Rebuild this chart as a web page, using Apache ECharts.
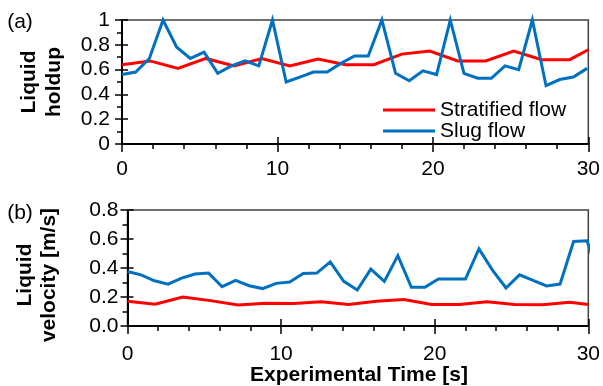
<!DOCTYPE html>
<html>
<head>
<meta charset="utf-8">
<script src="https://cdn.jsdelivr.net/npm/echarts@6/dist/echarts.min.js"></script>
<style>
  html, body { margin: 0; padding: 0; background: #fff; }
  #chart { width: 603px; height: 386px; }
</style>
</head>
<body>
<div id="chart"></div>
<script>
// Sample times [s]
const slugTime = [0, 0.88, 1.76, 2.64, 3.52, 4.40, 5.28, 6.16, 7.04, 7.92, 8.80, 9.68,
  10.56, 11.44, 12.32, 13.20, 14.08, 14.96, 15.84, 16.72, 17.60, 18.48, 19.36, 20.24,
  21.12, 22.00, 22.88, 23.76, 24.64, 25.52, 26.40, 27.28, 28.16, 29.04, 29.92, 30.80];
const stratTime = [0, 1.8, 3.6, 5.4, 7.2, 9.0, 10.8, 12.6, 14.4, 16.2, 18.0, 19.8,
  21.6, 23.4, 25.2, 27.0, 28.8, 30];

// (a) Liquid holdup
const holdupStratified = [0.64, 0.67, 0.61, 0.69, 0.63, 0.69, 0.63, 0.685, 0.64, 0.64,
  0.725, 0.75, 0.67, 0.67, 0.75, 0.68, 0.68, 0.76];
const holdupSlug = [0.56, 0.58, 0.69, 1.0, 0.78, 0.69, 0.74, 0.57, 0.63, 0.67, 0.63, 1.0,
  0.50, 0.54, 0.58, 0.58, 0.65, 0.71, 0.71, 1.0, 0.57, 0.51, 0.59, 0.56, 1.0, 0.57,
  0.53, 0.53, 0.63, 0.60, 1.0, 0.47, 0.52, 0.54, 0.61];

// (b) Liquid velocity [m/s]
const velocityStratified = [0.17, 0.15, 0.20, 0.175, 0.145, 0.157, 0.155, 0.168, 0.148,
  0.17, 0.182, 0.148, 0.148, 0.168, 0.148, 0.146, 0.163, 0.148];
const velocitySlug = [0.376, 0.353, 0.312, 0.289, 0.33, 0.358, 0.365, 0.271, 0.315, 0.278,
  0.258, 0.294, 0.303, 0.362, 0.365, 0.442, 0.308, 0.248, 0.392, 0.308, 0.485, 0.267,
  0.267, 0.324, 0.324, 0.324, 0.531, 0.385, 0.262, 0.353, 0.315, 0.276, 0.289, 0.583,
  0.588, 0.30];

// Tick labels
const timeTicks = ['0', '10', '20', '30'];
const holdupTicks = ['0', '0.2', '0.4', '0.6', '0.8', '1'];
const velocityTicks = ['0.0', '0.2', '0.4', '0.6', '0.8'];

const FONT = '"Liberation Sans", Arial, sans-serif';
const RED = '#FF0000';
const BLUE = '#0070C0';

const pairs = (t, v) => v.map((y, i) => [t[i], y]);

function mainX(gridIndex, margin) {
  return {
    type: 'value', gridIndex, position: 'bottom', min: 0, max: 30, interval: 10,
    axisLine: { show: true, onZero: false, lineStyle: { color: '#000', width: 2 } },
    axisTick: { show: true, inside: false, length: 8, lineStyle: { color: '#000', width: 1.5 } },
    minorTick: { show: true, splitNumber: 5, length: 5, lineStyle: { color: '#000', width: 1.5 } },
    splitLine: { show: false }, minorSplitLine: { show: false },
    axisLabel: { margin, fontSize: 21, color: '#000', fontFamily: FONT,
      formatter: v => timeTicks[Math.round(v / 10)] }
  };
}
function innerX(gridIndex) {
  return {
    type: 'value', gridIndex, position: 'bottom', min: 0, max: 30, interval: 10,
    axisLine: { show: false },
    axisTick: { show: true, inside: true, length: 7, lineStyle: { color: '#000', width: 1.5 } },
    axisLabel: { show: false }, splitLine: { show: false }
  };
}
function mainY(gridIndex, max, labels, margin) {
  return {
    type: 'value', gridIndex, position: 'left', min: 0, max, interval: 0.2,
    axisLine: { show: true, onZero: false, lineStyle: { color: '#000', width: 2 } },
    axisTick: { show: true, inside: false, length: 7, lineStyle: { color: '#000', width: 1.5 } },
    minorTick: { show: true, splitNumber: 2, length: 5, lineStyle: { color: '#000', width: 1.5 } },
    splitLine: { show: false }, minorSplitLine: { show: false },
    axisLabel: { margin, fontSize: 21, color: '#000', fontFamily: FONT,
      formatter: v => labels[Math.round(v / 0.2)] }
  };
}
function innerY(gridIndex, max) {
  return {
    type: 'value', gridIndex, position: 'left', min: 0, max, interval: 0.2,
    axisLine: { show: false },
    axisTick: { show: true, inside: true, length: 6, lineStyle: { color: '#000', width: 1.5 } },
    axisLabel: { show: false }, splitLine: { show: false }
  };
}

const lineSeries = (name, color, xi, yi, data, clip) => ({
  name, type: 'line', xAxisIndex: xi, yAxisIndex: yi, data, clip,
  showSymbol: false, symbol: 'none', smooth: false, animation: false,
  lineStyle: { color, width: 3, join: 'miter' }, itemStyle: { color }
});

const titleStyle = (text, lh) => ({
  text, font: 'bold 21px ' + FONT, fill: '#000',
  align: 'center', verticalAlign: 'middle', textAlign: 'center', textVerticalAlign: 'middle',
  lineHeight: lh
});

const chart = echarts.init(document.getElementById('chart'), null, { renderer: 'canvas' });
chart.setOption({
  animation: false,
  backgroundColor: '#fff',
  grid: [
    { left: 122, top: 20, width: 467, height: 124, show: true, borderColor: '#404040', borderWidth: 1.5, containLabel: false },
    { left: 127.5, top: 210, width: 463.5, height: 116, show: true, borderColor: '#404040', borderWidth: 1.5, containLabel: false }
  ],
  xAxis: [mainX(0, 15), innerX(0), mainX(1, 18), innerX(1)],
  yAxis: [mainY(0, 1, holdupTicks, 12), innerY(0, 1), mainY(1, 0.8, velocityTicks, 9), innerY(1, 0.8)],
  legend: {
    left: 383, top: 99.5, padding: 0, orient: 'vertical', itemWidth: 52, itemHeight: 3, itemGap: 0,
    icon: 'rect', data: ['Stratified flow', 'Slug flow'],
    textStyle: { fontSize: 21, lineHeight: 21, color: '#000', fontFamily: FONT }
  },
  series: [
    lineSeries('Stratified flow', RED, 0, 0, pairs(stratTime, holdupStratified), false),
    lineSeries('Slug flow', BLUE, 0, 0, pairs(slugTime, holdupSlug), false),
    lineSeries('Stratified flow', RED, 2, 2, pairs(stratTime, velocityStratified), true),
    lineSeries('Slug flow', BLUE, 2, 2, pairs(slugTime, velocitySlug), true)
  ],
  graphic: [
    { type: 'text', x: 20, y: 22.5, style: { text: '(a)', font: '21px ' + FONT, fill: '#000', align: 'center', verticalAlign: 'middle', textAlign: 'center', textVerticalAlign: 'middle' } },
    { type: 'text', x: 20, y: 213, style: { text: '(b)', font: '21px ' + FONT, fill: '#000', align: 'center', verticalAlign: 'middle', textAlign: 'center', textVerticalAlign: 'middle' } },
    { type: 'text', x: 41.5, y: 82, rotation: Math.PI / 2, style: titleStyle('Liquid\nholdup', 25) },
    { type: 'text', x: 37, y: 275, rotation: Math.PI / 2, style: titleStyle('Liquid\nvelocity [m/s]', 24) },
    { type: 'text', x: 359, y: 375, style: titleStyle('Experimental Time [s]', 21) }
  ]
});
</script>
</body>
</html>
